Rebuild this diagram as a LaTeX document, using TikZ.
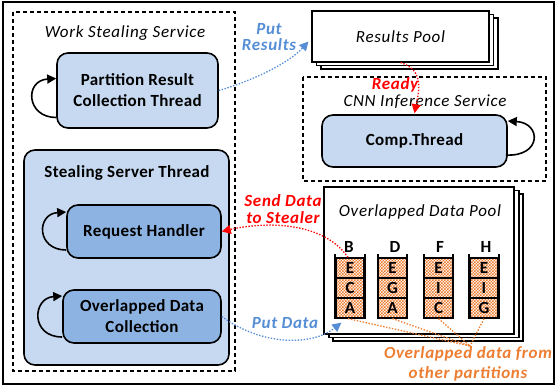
\documentclass[tikz,border=0pt]{standalone}
\usepackage{fontspec}
\setmainfont{Carlito}
\usetikzlibrary{calc,arrows.meta,patterns}

\definecolor{lblue}{RGB}{198,217,240}
\definecolor{mblue}{RGB}{141,179,226}
\definecolor{pblue}{RGB}{85,142,213}
\definecolor{ored}{RGB}{237,125,49}
\definecolor{rred}{RGB}{255,0,0}

% small orange/white checks for the data cells
\pgfdeclarepatternformonly{finechecker}{\pgfqpoint{-.1pt}{-.1pt}}{\pgfqpoint{3.1pt}{3.1pt}}{\pgfqpoint{3pt}{3pt}}{%
  \pgfpathrectangle{\pgfqpoint{0pt}{0pt}}{\pgfqpoint{1.6pt}{1.6pt}}%
  \pgfpathrectangle{\pgfqpoint{1.5pt}{1.5pt}}{\pgfqpoint{1.6pt}{1.6pt}}%
  \pgfusepath{fill}}

\newcommand{\spaced}{\addfontfeature{LetterSpace=4}}
\newcommand{\slightspaced}{\addfontfeature{LetterSpace=2}}

\tikzset{
  box/.style={draw, line width=1.6, rounded corners=11, fill=lblue, align=center,
    inner sep=0, font=\fontsize{17}{21}\selectfont\bfseries\slightspaced},
  innerbox/.style={box, fill=mblue},
  svc/.style={draw, line width=1.1, dash pattern=on 4 off 3},
  page/.style={draw, line width=1.1, fill=white},
  ttl/.style={font=\fontsize{17}{21}\selectfont\itshape\spaced},
  cell/.style={draw, line width=1.3, minimum width=28, minimum height=20, inner sep=0,
    preaction={fill=white}, pattern=finechecker, pattern color=ored,
    font=\fontsize{17}{21}\selectfont\bfseries},
  rail/.style={line width=2.2},
  colhead/.style={font=\fontsize{17}{21}\selectfont\bfseries},
  flow/.style={line width=1.3, dash pattern=on 1.4 off 1.6},
  bluearr/.style={flow, draw=pblue, -{Triangle[length=9,width=9]}},
  redarr/.style={flow, draw=rred, -{Triangle[length=9,width=9]}},
  oline/.style={flow, draw=ored},
  selfloop/.style={line width=1.6, -{Triangle[length=9,width=9]}},
  lbl/.style={align=center, inner sep=0, font=\fontsize{17}{15.5}\selectfont\bfseries\itshape\spaced},
}

\begin{document}
\begin{tikzpicture}[x=1pt, y=-1pt]
\useasboundingbox (0,0) rectangle (558,389);

% outer frame
\draw[line width=2.5] (3,2) rectangle (554,384);

% ---------- Work Stealing Service ----------
\draw[svc] (13,12) rectangle (235,371);
\node[ttl] (wst) at (125,33) {Work Stealing Service};

\node[box, minimum width=161, minimum height=75] (prc) at (137.5,90.5)
  {Partition Result\\Collection Thread};
\draw[selfloop] ($(prc.west)+(0,27)$) .. controls +(-30,0) and +(-32,2) .. ($(prc.west)+(0,-12)$);

\node[box, minimum width=205, minimum height=215] (sst) at (126.5,257.5) {};
\node[font=\fontsize{17}{21}\selectfont\bfseries\slightspaced] (ssttl) at (127,173) {Stealing Server Thread};

\node[innerbox, minimum width=154, minimum height=53] (rh) at (144,231.5) {Request Handler};
\draw[selfloop] ($(rh.west)+(0,18.5)$) .. controls +(-30,0) and +(-30,2) .. ($(rh.west)+(0,-19.5)$);

\node[innerbox, minimum width=158, minimum height=53] (odc) at (142,316.5)
  {Overlapped Data\\Collection};
\draw[selfloop] ($(odc.west)+(0,20.5)$) .. controls +(-32,0) and +(-30,2) .. ($(odc.west)+(0,-20.5)$);

% ---------- Results Pool ----------
\node[page, minimum width=177, minimum height=51, inner sep=0] (rpa) at (409.5,43.5) {};
\node[page, minimum width=177, minimum height=51, inner sep=0] (rpb) at (405,40) {};
\node[page, minimum width=177, minimum height=51, inner sep=0, ttl] (rp) at (400.5,36.5) {Results Pool};

% ---------- CNN Inference Service ----------
\draw[svc] (303,77) rectangle (546,181);
\node[ttl] (cnn) at (425,101.5) {CNN Inference Service};
\node[box, minimum width=185, minimum height=52] (ct) at (414.5,141) {Comp.Thread};
\draw[selfloop] ($(ct.east)+(-2,14)$) .. controls +(36,2) and +(34,2) .. ($(ct.east)+(0,-20)$);

% ---------- Overlapped Data Pool ----------
\node[page, minimum width=190, minimum height=147, inner sep=0] (opa) at (428,267.5) {};
\node[page, minimum width=190, minimum height=147, inner sep=0] (opb) at (424,264) {};
\node[page, minimum width=190, minimum height=147, inner sep=0] (op) at (419,260.5) {};
\node[ttl] (optl) at (420,212) {Overlapped Data Pool};

\node[colhead] (hb) at (349,247) {B};
\node[colhead] (hd) at (395,247) {D};
\node[colhead] (hf) at (440,247) {F};
\node[colhead] (hh) at (486,247) {H};

\foreach \n/\x/\a/\b/\c in {b/350/E/C/A, d/392.5/E/G/A, f/438.5/E/I/C, h/484/E/I/G}{
  \node[cell] (\n1) at (\x,268) {\a};
  \node[cell] (\n2) at (\x,288) {\b};
  \node[cell] (\n3) at (\x,308) {\c};
  \draw[rail] ($(\n1.north west)+(0,-3)$) -- (\n3.south west);
  \draw[rail] ($(\n1.north east)+(0,-3)$) -- (\n3.south east);
}

% ---------- flows ----------
\draw[bluearr] (prc.east) .. controls (255,80) and (290,62) .. ($(rp.west)+(-3,5)$);
\node[lbl, text=pblue] (lput) at (269,37) {Put\\Results};

\draw[redarr] (rp.south) .. controls (426,70) and (418,95) .. ($(ct.north)+(0,-1)$);
\node[lbl, text=rred] (lready) at (395,85) {Ready};

\draw[redarr] ($(b1.north)+(-2,0)$) .. controls (322,220) and (262,222) .. (rh.east);
\node[lbl, text=rred, font=\fontsize{17}{17}\selectfont\bfseries\itshape\spaced] (lsend) at (283,209) {Send Data\\to Stealer};

\coordinate (pdin) at ($(b3.south west)+(6,4)$);
\draw[bluearr] (odc.east) .. controls (262,346) and (312,346) .. (pdin);
\node[lbl, text=pblue] (lpd) at (285,323) {Put Data};

\coordinate (conv) at (470,346);
\draw[oline] ($(b3.south)+(-2,0)$) -- (conv);
\draw[oline] (d3.south) -- (conv);
\draw[oline] (f3.south) -- (conv);
\draw[oline] (h3.south) -- (conv);
\node[lbl, text=ored, font=\fontsize{17}{20}\selectfont\bfseries\itshape\spaced] (lov) at (468,364)
  {Overlapped data from\\other partitions};
\end{tikzpicture}
\end{document}
